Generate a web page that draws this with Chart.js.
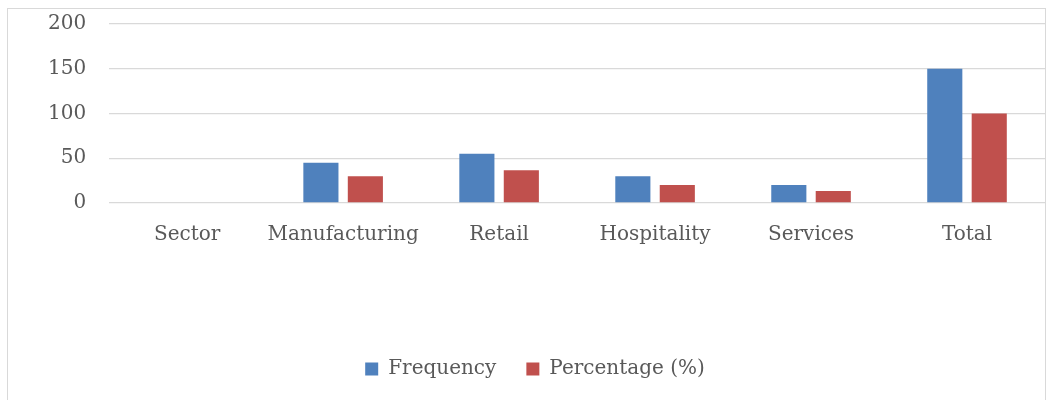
<!DOCTYPE html>
<html>
<head>
<meta charset="utf-8">
<script src="https://cdn.jsdelivr.net/npm/chart.js@4/dist/chart.umd.min.js"></script>
<style>
  html, body { margin: 0; padding: 0; background: #fff; overflow: hidden; }
  #wrap { position: relative; width: 1050px; height: 400px; overflow: hidden; }
  #chart { position: absolute; left: 0; top: -11px; }
  #frame { position: absolute; left: 7px; top: 8px; width: 1037px; height: 420px; border: 1px solid #d9d9d9; pointer-events: none; }
</style>
</head>
<body>
<div id="wrap">
  <canvas id="chart" width="1050" height="411"></canvas>
  <div id="frame"></div>
</div>
<script>
let categories = ["Sector", "Manufacturing", "Retail", "Hospitality", "Services", "Total"];
let frequency = [null, 45, 55, 30, 20, 150];
let percentage = [null, 30, 36.7, 20, 13.3, 100];
let yTicks = [0, 50, 100, 150, 200];

let textColor = "#595959";
let font = { family: "DejaVu Serif", size: 20 };

let ctx = document.getElementById("chart").getContext("2d");
let chart = new Chart(ctx, {
  type: "bar",
  data: {
    labels: categories,
    datasets: [
      {
        label: "Frequency",
        data: frequency,
        backgroundColor: "#4f81bd",
        categoryPercentage: 0.57,
        barPercentage: 0.79
      },
      {
        label: "Percentage (%)",
        data: percentage,
        backgroundColor: "#c0504d",
        categoryPercentage: 0.57,
        barPercentage: 0.79
      }
    ]
  },
  options: {
    responsive: false,
    animation: false,
    layout: {
      padding: { left: 25, right: 5, top: 1, bottom: 11 }
    },
    plugins: {
      tooltip: { enabled: false },
      legend: {
        position: "bottom",
        labels: {
          color: textColor,
          font: font,
          boxWidth: 13,
          boxHeight: 13,
          padding: 30
        }
      }
    },
    scales: {
      x: {
        grid: { display: false },
        border: { display: false },
        ticks: { color: textColor, font: font, padding: 12, maxRotation: 0, autoSkip: false },
        afterFit: function (scale) {
          scale.height = 126;
        }
      },
      y: {
        min: yTicks[0],
        max: yTicks[yTicks.length - 1],
        grid: { color: "#d9d9d9", lineWidth: 1.3, drawTicks: false },
        border: { display: false },
        ticks: { color: textColor, font: font, stepSize: 50, padding: 23 }
      }
    }
  }
});
</script>
</body>
</html>
